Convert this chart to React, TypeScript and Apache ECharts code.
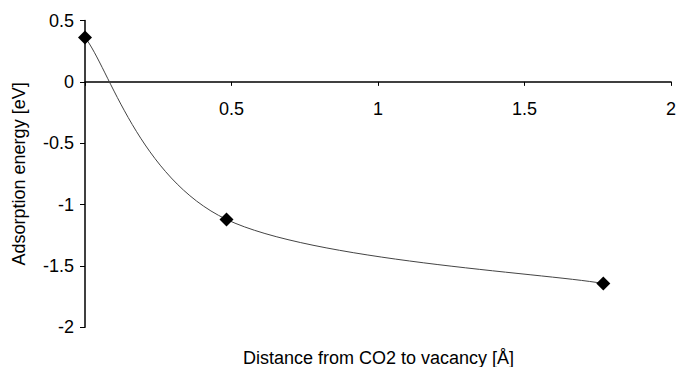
import React, { useEffect, useRef } from "react";
import * as echarts from "echarts";

const distances = [0, 0.483, 1.769];
const energies = [0.362, -1.121, -1.643];
const xTicks = [0, 0.5, 1, 1.5, 2];
const yTicks = [0.5, 0, -0.5, -1, -1.5, -2];
const xTitle = "Distance from CO2 to vacancy [Å]";
const yTitle = "Adsorption energy [eV]";

const FONT = "'Liberation Sans', Arial, sans-serif";

export default function App() {
  const ref = useRef<HTMLDivElement>(null);
  useEffect(() => {
    if (!ref.current) return;
    const chart = echarts.init(ref.current, undefined, { renderer: "svg" });
    const data = distances.map((d, i) => [d, energies[i]]);
    const yMin = yTicks[yTicks.length - 1];
    const yMax = yTicks[0];
    const top = 20.5;
    const bottom = 39.7;
    const plotH = 367 - top - bottom;
    const zeroOffset = -((0 - yMin) / (yMax - yMin)) * plotH;

    // Spreadsheet-style smoothed segment between consecutive points (Catmull-Rom / 6)
    const renderSegment = (params: any, api: any) => {
      const i = params.dataIndex;
      if (i >= data.length - 1) return null;
      const pts = data.map((d) => api.coord(d));
      const p0 = pts[Math.max(i - 1, 0)];
      const p1 = pts[i];
      const p2 = pts[i + 1];
      const p3 = pts[Math.min(i + 2, pts.length - 1)];
      const c1 = [p1[0] + (p2[0] - p0[0]) / 6, p1[1] + (p2[1] - p0[1]) / 6];
      const c2 = [p2[0] - (p3[0] - p1[0]) / 6, p2[1] - (p3[1] - p1[1]) / 6];
      return {
        type: "bezierCurve",
        shape: {
          x1: p1[0], y1: p1[1],
          cpx1: c1[0], cpy1: c1[1],
          cpx2: c2[0], cpy2: c2[1],
          x2: p2[0], y2: p2[1],
        },
        style: { stroke: "#444", lineWidth: 1, fill: "none" },
      };
    };

    chart.setOption({
      animation: false,
      backgroundColor: "#ffffff",
      grid: { left: 85, right: 7, top, bottom, containLabel: false },
      xAxis: {
        type: "value",
        min: xTicks[0],
        max: xTicks[xTicks.length - 1],
        interval: 0.5,
        position: "bottom",
        offset: zeroOffset,
        axisLine: { onZero: false, lineStyle: { color: "#000", width: 1.5 } },
        axisTick: { show: true, inside: false, length: 4, lineStyle: { color: "#000", width: 1 } },
        axisLabel: {
          color: "#000",
          fontSize: 18,
          fontFamily: FONT,
          margin: 18,
          formatter: (v: number) => (v === 0 ? "" : String(v)),
        },
        splitLine: { show: false },
      },
      yAxis: {
        type: "value",
        min: yMin,
        max: yMax,
        interval: 0.5,
        name: yTitle,
        nameLocation: "middle",
        nameGap: 57,
        nameTextStyle: { color: "#000", fontSize: 18, fontFamily: FONT },
        axisLine: { show: true, lineStyle: { color: "#000", width: 1.5 } },
        axisTick: { show: true, length: 5, lineStyle: { color: "#000", width: 1 } },
        axisLabel: {
          color: "#000",
          fontSize: 18,
          fontFamily: FONT,
          margin: 11,
          formatter: (v: number) => String(v),
        },
        splitLine: { show: false },
      },
      graphic: [
        {
          type: "text",
          x: 378.5,
          y: 358,
          style: {
            text: xTitle,
            fill: "#000",
            fontSize: 18,
            fontFamily: FONT,
            textAlign: "center",
            textVerticalAlign: "middle",
          },
        },
      ],
      series: [
        {
          type: "custom",
          data,
          renderItem: renderSegment,
          clip: false,
          z: 2,
          silent: true,
        },
        {
          type: "scatter",
          data,
          symbol: "diamond",
          symbolSize: 14,
          itemStyle: { color: "#000", opacity: 1 },
          clip: false,
          z: 3,
        },
      ],
    });
    return () => chart.dispose();
  }, []);
  return (
    <div
      ref={ref}
      style={{ position: "fixed", left: 0, top: 0, width: 679, height: 367, background: "#fff" }}
    />
  );
}
